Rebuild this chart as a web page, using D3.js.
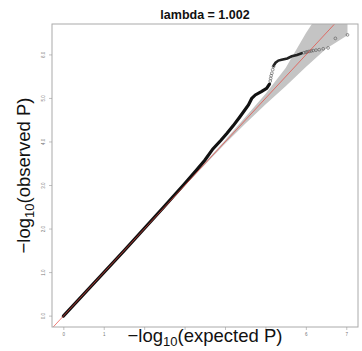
<!DOCTYPE html>
<html><head><meta charset="utf-8">
<script src="https://cdn.jsdelivr.net/npm/d3@7/dist/d3.min.js"></script>
<style>body{margin:0;background:#fff}svg{display:block}</style>
</head><body><svg id="c" width="362" height="351"></svg>
<script>
const titleText = "lambda = 1.002";
const xTicks = [0,1,2,3,4,5,6,7];
const xTickLabels = ["0","1","","","","","6","7"]; // 2–5 hidden under the axis title in the reference
const yTicks = [0,1,2,3,4,5,6];
// dense part of the QQ curve (expected, observed)
const bulkExp = [0, 0.5, 1.0, 1.5, 2.0, 2.5, 3.0, 3.3, 3.5, 3.7, 3.9, 4.05, 4.2, 4.37, 4.58, 4.66, 4.75, 4.91, 5.03, 5.1];
const bulkObs = [0, 0.5, 1.0, 1.5, 2.01, 2.52, 3.04, 3.36, 3.58, 3.84, 4.04, 4.2, 4.37, 4.58, 4.85, 5.0, 5.08, 5.16, 5.23, 5.33];
const upperExp = [5.2, 5.25, 5.32, 5.4, 5.54, 5.65, 5.78, 5.9];
const upperObs = [5.75, 5.82, 5.87, 5.89, 5.92, 5.97, 6.0, 6.04];
// sparse points drawn as open circles
const tailExp = [5.12, 5.13, 5.14, 5.16, 5.18, 5.2, 5.95, 6.0, 6.03, 6.08, 6.13, 6.18, 6.25, 6.33, 6.43, 6.55, 6.73, 7.03];
const tailObs = [5.40, 5.46, 5.52, 5.58, 5.66, 5.73, 6.05, 6.06, 6.07, 6.08, 6.09, 6.10, 6.11, 6.12, 6.14, 6.16, 6.38, 6.46];
// confidence band
const bandExp = [0, 3.0, 4.0, 4.5, 5.0, 5.5, 6.0, 6.5, 7.03];
const bandLo  = [0, 2.99, 3.96, 4.42, 4.86, 5.28, 5.72, 6.14, 6.45];
const bandHi  = [0, 3.01, 4.04, 4.57, 5.1, 5.7, 6.5, 7.2, 8.0];

const L=52, R=358, T=24, B=327;
const x = d3.scaleLinear().domain([-0.28, 7.29]).range([L, R]);
const y = d3.scaleLinear().domain([-0.25, 6.71]).range([B, T]);
const svg = d3.select("#c");
const font = "'Liberation Sans', Arial, Helvetica, sans-serif";

svg.append("defs").append("clipPath").attr("id","clip")
  .append("rect").attr("x",L).attr("y",T).attr("width",R-L).attr("height",B-T);
const g = svg.append("g").attr("clip-path","url(#clip)");

// band
const band = bandExp.map((e,i)=>({e, lo:bandLo[i], hi:bandHi[i]}));
g.append("path").datum(band)
  .attr("d", d3.area().x(d=>x(d.e)).y0(d=>y(d.lo)).y1(d=>y(d.hi)))
  .attr("fill","#c4c4c4").attr("stroke","none");

// dense curve
const bulk = bulkExp.map((e,i)=>[e,bulkObs[i]]);
g.append("path").datum(bulk)
  .attr("d", d3.line().x(d=>x(d[0])).y(d=>y(d[1])))
  .attr("fill","none").attr("stroke","#111").attr("stroke-width",3.2).attr("stroke-linecap","round");
const up = upperExp.map((e,i)=>[e,upperObs[i]]);
g.append("path").datum(up)
  .attr("d", d3.line().x(d=>x(d[0])).y(d=>y(d[1])))
  .attr("fill","none").attr("stroke","#222").attr("stroke-width",2.6).attr("stroke-linecap","round");
// tail circles
g.selectAll("circle.t").data(tailExp.map((e,i)=>[e,tailObs[i]])).join("circle")
  .attr("class","t").attr("cx",d=>x(d[0])).attr("cy",d=>y(d[1])).attr("r",1.4)
  .attr("fill","none").attr("stroke","#555").attr("stroke-width",0.6);

// y = x reference
g.append("line").attr("x1",x(-1)).attr("y1",y(-1)).attr("x2",x(8)).attr("y2",y(8))
  .attr("stroke","#e8453c").attr("stroke-width",0.7);

// border
svg.append("rect").attr("x",L).attr("y",T).attr("width",R-L).attr("height",B-T)
  .attr("fill","none").attr("stroke","#aaa").attr("stroke-width",1);

// axes
const xa = svg.append("g").attr("transform",`translate(0,${B})`)
  .call(d3.axisBottom(x).tickValues(xTicks).tickFormat((d,i)=>xTickLabels[i]).tickSize(3).tickSizeOuter(0).tickPadding(3));
xa.select(".domain").remove();
xa.selectAll("line").attr("stroke","#999").attr("stroke-width",0.6);
xa.selectAll("text").attr("font-size",4.5).attr("fill","#777").attr("font-family",font);

const ya = svg.append("g").attr("transform",`translate(${L},0)`)
  .call(d3.axisLeft(y).tickValues(yTicks).tickSize(3).tickSizeOuter(0));
ya.select(".domain").remove();
ya.selectAll("line").attr("stroke","#999").attr("stroke-width",0.6);
ya.selectAll("text").attr("font-size",4.5).attr("fill","#777").attr("font-family",font)
  .attr("text-anchor","middle").attr("x",0).attr("dy",0)
  .attr("transform",d=>`translate(-7,${y(d)}) rotate(-90)`).attr("y",0);
ya.selectAll(".tick").attr("transform",null);
ya.selectAll(".tick line").attr("transform",d=>`translate(0,${y(d)})`);

// title
svg.append("text").attr("x",(L+R)/2).attr("y",18.5).attr("text-anchor","middle")
  .attr("font-family",font).attr("font-weight","bold").attr("font-size",12.5).attr("fill","#111")
  .text(titleText);

// axis titles
function axisTitle(sel, word){
  sel.attr("font-family",font).attr("font-size",18.5).attr("fill","#111").attr("text-anchor","middle");
  sel.append("tspan").text("\u2212log");
  sel.append("tspan").attr("font-size",13).attr("dy",4).text("10");
  sel.append("tspan").attr("dy",-4).text("(" + word + " P)");
}
axisTitle(svg.append("text").attr("x",(L+R)/2).attr("y",342), "expected");
axisTitle(svg.append("text").attr("transform",`translate(30,${(T+B)/2}) rotate(-90)`), "observed");
</script></body></html>
